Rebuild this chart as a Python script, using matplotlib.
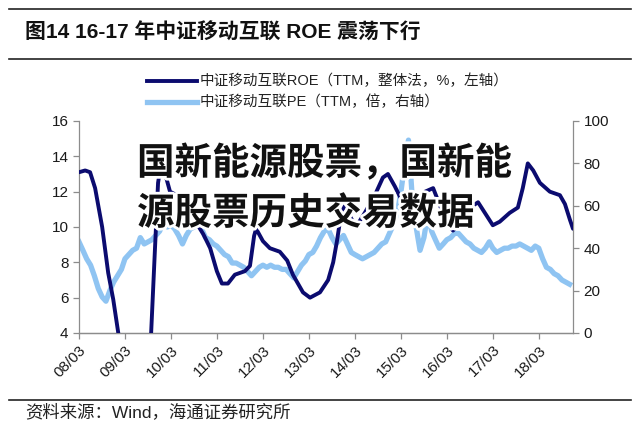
import matplotlib
matplotlib.use('Agg')
import matplotlib.pyplot as plt
import matplotlib.patheffects as pe
from matplotlib.lines import Line2D
import pandas as pd

plt.rcParams['font.family'] = ['Liberation Sans', 'Noto Sans CJK SC']

title = '图14 16-17 年中证移动互联 ROE 震荡下行'
source = '资料来源：Wind，海通证券研究所'
watermark = ['国新能源股票，国新能', '源股票历史交易数据']
roe_label = '中证移动互联ROE（TTM，整体法，%，左轴）'
pe_label = '中证移动互联PE（TTM，倍，右轴）'

tick_dates = ['2008-03-01', '2009-03-01', '2010-03-01', '2011-03-01', '2012-03-01',
              '2013-03-01', '2014-03-01', '2015-03-01', '2016-03-01', '2017-03-01',
              '2018-03-01']
tick_labels = ['08/03', '09/03', '10/03', '11/03', '12/03', '13/03', '14/03',
               '15/03', '16/03', '17/03', '18/03']

roe_dates = ['2008-03-01', '2008-04-19', '2008-05-28', '2008-07-07', '2008-09-01',
             '2008-10-19', '2008-11-28', '2009-01-07', '2009-03-01', '2009-06-01',
             '2009-09-01', '2009-09-25', '2009-10-25', '2009-11-19', '2009-12-13',
             '2010-01-07', '2010-02-22', '2010-05-13', '2010-08-01', '2010-11-13',
             '2011-01-07', '2011-03-01', '2011-04-10', '2011-05-28', '2011-07-22',
             '2011-10-10', '2011-11-19', '2011-12-22', '2012-01-07', '2012-03-01',
             '2012-04-25', '2012-07-13', '2012-09-10', '2012-10-25', '2013-01-13',
             '2013-03-10', '2013-05-28', '2013-08-01', '2013-09-10', '2013-10-10',
             '2013-11-13', '2013-12-13', '2014-01-22', '2014-03-10', '2014-05-19',
             '2014-08-07', '2014-10-10', '2014-11-19', '2015-01-13', '2015-03-16',
             '2015-05-13', '2015-07-13', '2015-09-10', '2015-11-13', '2016-01-07',
             '2016-03-01', '2016-04-19', '2016-06-13', '2016-09-01', '2016-11-04',
             '2016-12-28', '2017-03-01', '2017-04-25', '2017-07-13', '2017-09-16',
             '2017-10-25', '2017-12-04', '2018-01-16', '2018-03-10', '2018-05-28',
             '2018-08-16', '2018-09-25', '2018-11-04', '2018-11-28']
roe_values = [13.1, 13.2, 13.1, 12.2, 10.0,
              7.4, 5.9, 4.0, 2.2, 0.5,
              1.5, 4.0, 8.7, 12.5, 13.6,
              13.2, 12.0, 11.7, 10.8, 9.6,
              8.8, 7.5, 6.8, 6.8, 7.3,
              7.5, 7.8, 9.5, 9.9, 9.2,
              8.8, 8.6, 8.1, 7.3, 6.3,
              6.0, 6.3, 7.0, 8.0, 9.2,
              10.8, 11.2, 10.6, 10.0, 10.8,
              11.8, 12.8, 13.0, 12.3, 11.4,
              11.0, 11.4, 12.0, 12.2, 11.2,
              10.2, 9.8, 10.2, 11.1, 11.4,
              10.8, 10.1, 10.3, 10.8, 11.1,
              12.2, 13.6, 13.2, 12.5, 12.0,
              11.8, 11.3, 10.4, 9.9]

pe_start = '2008-03-01'
pe_values = [43, 39, 35, 32, 27, 21, 17, 15, 20, 24,
             27, 30, 35, 37, 39, 40, 45, 42, 43, 44,
             46, 48, 52, 50, 51, 49, 46, 42, 46, 49,
             50, 52, 49, 45, 44, 42, 41, 39, 37, 36,
             33, 33, 32, 31, 29, 27, 29, 31, 32, 31,
             32, 31, 31, 30, 30, 28, 26, 29, 32, 34,
             37, 38, 41, 45, 48, 49, 45, 42, 44, 46,
             42, 38, 37, 36, 35, 36, 37, 38, 40, 42,
             43, 47, 51, 57, 66, 80, 91, 63, 50, 39,
             45, 56, 48, 44, 40, 42, 44, 45, 47, 47,
             45, 43, 42, 40, 39, 38, 40, 43, 40, 38,
             39, 40, 40, 41, 41, 42, 41, 40, 39, 41,
             40, 35, 31, 30, 28, 27, 25, 24, 23]

roe_color = '#0b0b6f'
pe_color = '#8fc4f2'
grey = '#8c8c8c'

fig = plt.figure(figsize=(6.4, 4.3), dpi=100)
W, H = 640, 430

ax = fig.add_axes([79 / W, 1 - 333 / H, (573 - 79) / W, (333 - 121) / H])
ax2 = ax.twinx()

pe_dates = pd.date_range(pe_start, periods=len(pe_values), freq='MS')
ax2.plot(pe_dates, pe_values, color=pe_color, lw=3.8, solid_joinstyle='round', zorder=1)
ax.plot(pd.to_datetime(roe_dates), roe_values, color=roe_color, lw=2.8,
        solid_joinstyle='round', solid_capstyle='round', zorder=3)

ax.set_zorder(ax2.get_zorder() + 1)
ax.patch.set_visible(False)

ax.set_ylim(4, 16)
ax.set_yticks([4, 6, 8, 10, 12, 14, 16])
ax2.set_ylim(0, 100)
ax2.set_yticks([0, 20, 40, 60, 80, 100])
ax.set_xlim(pd.Timestamp('2008-03-01'), pd.Timestamp('2018-11-28'))
ax.set_xticks(pd.to_datetime(tick_dates))
ax.set_xticklabels(tick_labels, rotation=45, ha='right', va='top',
                   rotation_mode='anchor')

for a in (ax, ax2):
    a.spines['top'].set_visible(False)
    for s in ('left', 'right', 'bottom'):
        a.spines[s].set_color(grey)
        a.spines[s].set_linewidth(0.9)
    a.tick_params(axis='both', colors=grey, labelcolor='#1a1a1a', labelsize=11,
                  length=4, width=0.9, direction='out')
ax.spines['right'].set_visible(False)
ax2.spines['left'].set_visible(False)
ax.tick_params(axis='x', pad=3)

# header / footer rules
for yy in (9, 59, 400):
    fig.add_artist(Line2D([9 / W, 631 / W], [1 - yy / H, 1 - yy / H],
                          color='#222222', lw=1.2))
fig.text(25 / W, 1 - 33 / H, title, fontsize=15, fontweight='bold',
         va='center', ha='left', color='#111111')
fig.text(25 / W, 1 - 412 / H, source, fontsize=12.5, va='center', ha='left',
         color='#222222')

# legend
fig.add_artist(Line2D([147 / W, 197 / W], [1 - 81 / H, 1 - 81 / H], color=roe_color, lw=2.8))
fig.add_artist(Line2D([147 / W, 197 / W], [1 - 102 / H, 1 - 102 / H], color=pe_color, lw=3.8))
fig.text(200 / W, 1 - 81 / H, roe_label, fontsize=10.5, va='center', ha='left', color='#222222')
fig.text(200 / W, 1 - 102 / H, pe_label, fontsize=10.5, va='center', ha='left', color='#222222')

# overlaid watermark text
for i, line in enumerate(watermark):
    fig.text(137 / W, 1 - (163 + 50 * i) / H, line, fontsize=27, fontweight='heavy',
             family=['Noto Sans CJK SC'], va='center', ha='left', color='#111111',
             zorder=10,
             path_effects=[pe.withStroke(linewidth=4, foreground='white')])

fig.savefig('out.png', dpi=100)
